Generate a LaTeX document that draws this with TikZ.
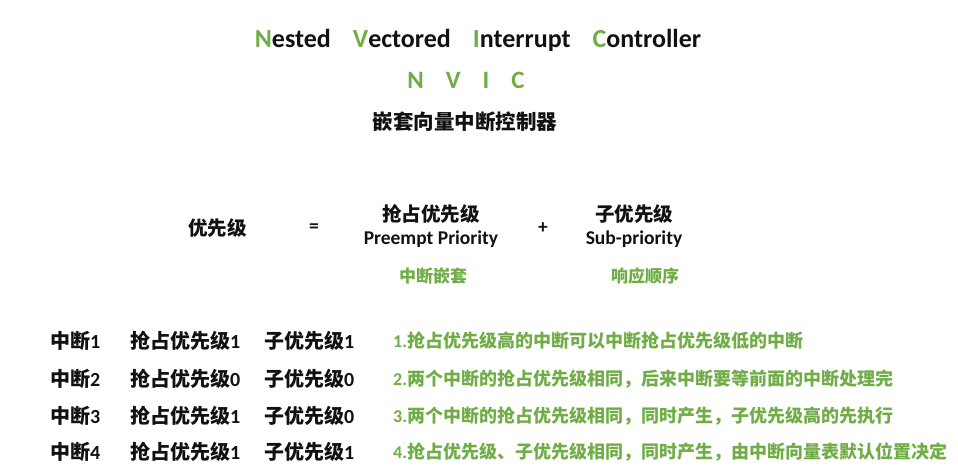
\documentclass[tikz,border=0pt]{standalone}
\usepackage{fontspec}
\usepackage{xcolor}
\usepackage{tikz}
\usetikzlibrary{positioning}
\setmainfont{Carlito}
\newfontfamily\cjk{Noto Sans CJK SC}
\definecolor{nvicgreen}{HTML}{70AD47}
\definecolor{nvicink}{HTML}{111111}
\newcommand{\zh}[1]{{\cjk #1}}
\newcommand{\initial}[1]{\textcolor{nvicgreen}{#1}}
\tikzset{
  headline/.style={anchor=base, inner sep=0pt, text=nvicink, font=\bfseries\fontsize{26}{30}\selectfont},
  acronym/.style={anchor=base, inner sep=0pt, text=nvicgreen, font=\bfseries\fontsize{25}{30}\selectfont},
  zhtitle/.style={inner sep=0pt, text=nvicink, font=\cjk\bfseries\fontsize{20.5}{24}\selectfont},
  term/.style={inner sep=0pt, text=nvicink, font=\bfseries\fontsize{19.5}{24}\selectfont},
  gloss/.style={inner sep=0pt, text=nvicink, font=\bfseries\fontsize{19.5}{23}\selectfont},
  tag/.style={inner sep=0pt, text=nvicgreen, font=\cjk\bfseries\fontsize{17}{20}\selectfont},
  cell/.style={anchor=west, inner sep=0pt, text=nvicink, font=\bfseries\fontsize{20}{24}\selectfont},
  rule/.style={anchor=west, inner sep=0pt, text=nvicgreen, font=\bfseries\fontsize{18}{22}\selectfont}
}

\begin{document}
\begin{tikzpicture}[x=1pt, y=-1pt]
  \useasboundingbox (0,0) rectangle (958,469);

  % title
  \node[headline] (name) at (478,47) {\initial{N}ested\hspace{22pt}\initial{V}ectored\hspace{22pt}\initial{I}nterrupt\hspace{22pt}\initial{C}ontroller};
  \node[acronym] (nvic) at (466,88) {N\hspace{22pt}V\hspace{22pt}I\hspace{22pt}C};
  \node[zhtitle] (zhname) at (465,122) {嵌套向量中断控制器};

  % priority = preempt + sub
  \node[term, anchor=west] (prio) at (188,228) {\zh{优先级}};
  \node[term] (eq) at (314,228) {=};
  \node[term] (pre) at (431,214) {\zh{抢占优先级}};
  \node[gloss, below=7pt of pre] (preen) {Preempt Priority};
  \node[term] (plus) at (543,228) {+};
  \node[term] (sub) at (634,214) {\zh{子优先级}};
  \node[gloss, below=7pt of sub] (suben) {Sub-priority};
  \node[tag] (nest) at (433,276) {中断嵌套};
  \node[tag] (order) at (645,276) {响应顺序};

  % interrupts
  \node[cell] (irq1) at (50,341) {\zh{中断}1};
  \node[cell] (pre1) at (130,341) {\zh{抢占优先级}1};
  \node[cell] (sub1) at (264,341) {\zh{子优先级}1};
  \node[rule] (note1) at (393,341) {1.\zh{抢占优先级高的中断可以中断抢占优先级低的中断}};

  \node[cell] (irq2) at (50,379) {\zh{中断}2};
  \node[cell] (pre2) at (130,379) {\zh{抢占优先级}0};
  \node[cell] (sub2) at (264,379) {\zh{子优先级}0};
  \node[rule] (note2) at (393,379) {2.\zh{两个中断的抢占优先级相同，后来中断要等前面的中断处理完}};

  \node[cell] (irq3) at (50,416) {\zh{中断}3};
  \node[cell] (pre3) at (130,416) {\zh{抢占优先级}1};
  \node[cell] (sub3) at (264,416) {\zh{子优先级}0};
  \node[rule] (note3) at (393,416) {3.\zh{两个中断的抢占优先级相同，同时产生，子优先级高的先执行}};

  \node[cell] (irq4) at (50,452) {\zh{中断}4};
  \node[cell] (pre4) at (130,452) {\zh{抢占优先级}1};
  \node[cell] (sub4) at (264,452) {\zh{子优先级}1};
  \node[rule] (note4) at (393,452) {4.\zh{抢占优先级、子优先级相同，同时产生，由中断向量表默认位置决定}};
\end{tikzpicture}
\end{document}
